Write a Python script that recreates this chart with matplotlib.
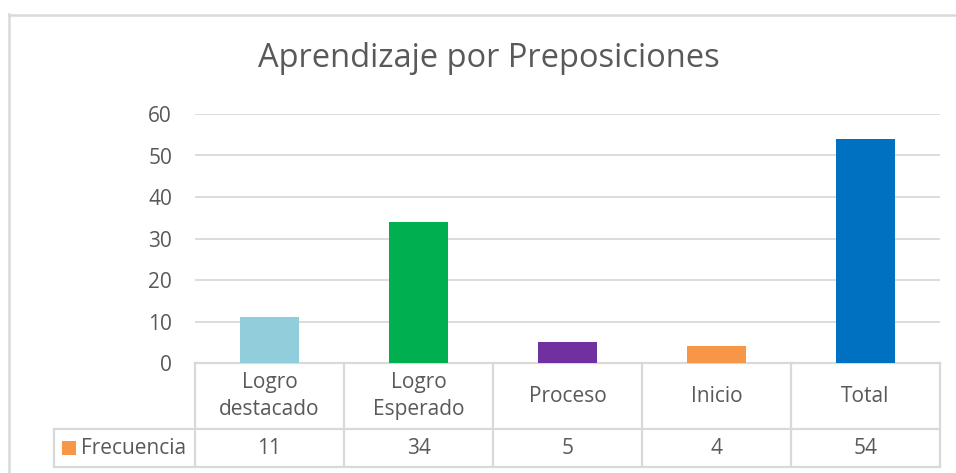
import matplotlib
matplotlib.use("Agg")
import matplotlib.pyplot as plt
from matplotlib.transforms import blended_transform_factory
from matplotlib.lines import Line2D
from matplotlib.patches import Rectangle

categories = ["Logro\ndestacado", "Logro\nEsperado", "Proceso", "Inicio", "Total"]
values = [11, 34, 5, 4, 54]
bar_colors = ["#92CDDC", "#00B050", "#7030A0", "#F79646", "#0070C0"]
series_name = "Frecuencia"
legend_color = "#F79646"
yticks = [0, 10, 20, 30, 40, 50, 60]
title = "Aprendizaje por Preposiciones"

W, H = 956, 473
FONT = "Open Sans"
TXT = "#595959"
GRID = "#D9D9D9"
FS = 15

fig = plt.figure(figsize=(W / 100, H / 100), dpi=100)
fig.patch.set_facecolor("white")
ax = fig.add_axes([195 / W, 1 - 363 / H, (940 - 195) / W, (363 - 114) / H])

x = list(range(len(categories)))
ax.bar(x, values, width=0.4, color=bar_colors, zorder=3)
ax.set_xlim(-0.5, len(categories) - 0.5)
ax.set_ylim(0, 60)
ax.set_yticks(yticks)
ax.set_yticklabels([str(t) for t in yticks], fontsize=FS, color=TXT, fontfamily=FONT)
ax.tick_params(axis="y", length=0, pad=16.5)
ax.set_xticks([])
for s in ax.spines.values():
    s.set_visible(False)
ax.yaxis.grid(True, color=GRID, linewidth=1.3, zorder=0)
ax.set_axisbelow(True)

fig.text(489 / W, 1 - 58 / H, title, ha="center", va="center", fontsize=23.5,
         color=TXT, fontfamily=FONT)

# data table
tr = blended_transform_factory(ax.transData, ax.transAxes)
ah = 363 - 114
hdr_bot = -66 / ah
row_bot = -104 / ah
leg_left = -0.5 - 141 / 149
n = len(categories)
lkw = dict(color=GRID, linewidth=1.6, transform=tr, clip_on=False)
ax.add_line(Line2D([-0.5, n - 0.5], [0, 0], **lkw))
ax.add_line(Line2D([leg_left, n - 0.5], [hdr_bot, hdr_bot], **lkw))
ax.add_line(Line2D([leg_left, n - 0.5], [row_bot, row_bot], **lkw))
for i in range(n + 1):
    ax.add_line(Line2D([i - 0.5, i - 0.5], [0, row_bot], **lkw))
ax.add_line(Line2D([leg_left, leg_left], [hdr_bot, row_bot], **lkw))

for i, (c, v) in enumerate(zip(categories, values)):
    ax.text(i, hdr_bot / 2, c, ha="center", va="center", fontsize=FS, color=TXT,
            fontfamily=FONT, transform=tr, linespacing=1.35)
    ax.text(i, (hdr_bot + row_bot) / 2, str(v), ha="center", va="center", fontsize=FS,
            color=TXT, fontfamily=FONT, transform=tr)

# legend key in the table
fig.patches.append(Rectangle((62 / W, 1 - 455 / H), 14 / W, 14 / H, facecolor=legend_color,
                             edgecolor="none", transform=fig.transFigure))
fig.text(81 / W, 1 - 448 / H, series_name, ha="left", va="center", fontsize=FS,
         color=TXT, fontfamily=FONT)

# chart border (partially visible)
fig.add_artist(Line2D([9 / W, 9 / W], [0, 1 - 14 / H], color=GRID, linewidth=1.8,
                      transform=fig.transFigure))
fig.add_artist(Line2D([9 / W, 1], [1 - 15 / H, 1 - 15 / H], color=GRID, linewidth=1.8,
                      transform=fig.transFigure))

fig.savefig("out.png", dpi=100)
